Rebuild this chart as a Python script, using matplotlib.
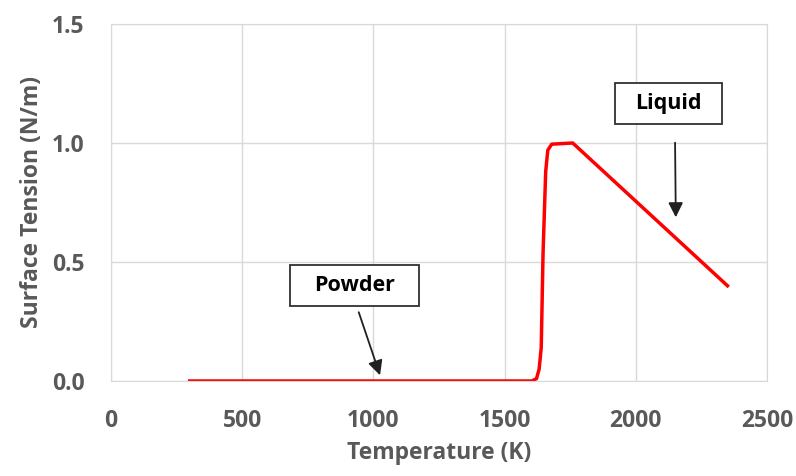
import matplotlib
matplotlib.use('Agg')
import matplotlib.pyplot as plt
from matplotlib.patches import Rectangle

# surface tension vs temperature
temp = [300, 1605, 1622, 1632, 1640, 1647, 1657, 1665, 1680, 1760, 2350]
tension = [0.0, 0.0, 0.01, 0.05, 0.14, 0.54, 0.88, 0.97, 0.995, 1.0, 0.40]

xticks = [0, 500, 1000, 1500, 2000, 2500]
yticks = [0.0, 0.5, 1.0, 1.5]

plt.rcParams['font.family'] = ['Open Sans', 'DejaVu Sans']
grey = '#595959'

fig = plt.figure(figsize=(7.96, 4.76), dpi=100)
ax = fig.add_axes([0.1394, 0.1996, 0.824, 0.75])

ax.plot(temp, tension, color='red', lw=2.5, solid_joinstyle='round')

ax.set_xlim(0, 2500)
ax.set_ylim(0, 1.5)
ax.set_xticks(xticks)
ax.set_yticks(yticks)
ax.set_yticklabels(['%.1f' % v for v in yticks])
ax.tick_params(length=0, labelsize=16.5, labelcolor=grey)
ax.tick_params(axis='x', pad=20)
ax.tick_params(axis='y', pad=19)
for lbl in ax.get_xticklabels() + ax.get_yticklabels():
    lbl.set_fontweight('bold')
ax.grid(True, color='#d9d9d9', lw=1)
ax.set_axisbelow(True)
for s in ax.spines.values():
    s.set_color('#d9d9d9')

ax.set_xlabel('Temperature (K)', fontsize=16.5, fontweight='bold', color=grey, labelpad=6)
ax.set_ylabel('Surface Tension (N/m)', fontsize=16.5, fontweight='bold', color=grey, labelpad=6)

# annotation boxes and arrows
arrow = dict(arrowstyle='-|>', color='#202020', lw=1.3, mutation_scale=22)
ax.annotate('', xy=(1029, 0.013), xytext=(941, 0.30), arrowprops=arrow)
ax.annotate('', xy=(2153, 0.676), xytext=(2150, 1.013), arrowprops=arrow)

for (lab, cx, cy, w, h) in [('Powder', 930, 0.40, 492, 0.172),
                            ('Liquid', 2125, 1.165, 408, 0.172)]:
    ax.add_patch(Rectangle((cx - w / 2, cy - h / 2), w, h, fc='white',
                           ec='#303030', lw=1.3, zorder=3))
    ax.text(cx, cy, lab, ha='center', va='center', fontsize=15.5,
            fontweight='bold', color='black', zorder=4)

fig.savefig('out.png', dpi=100)
